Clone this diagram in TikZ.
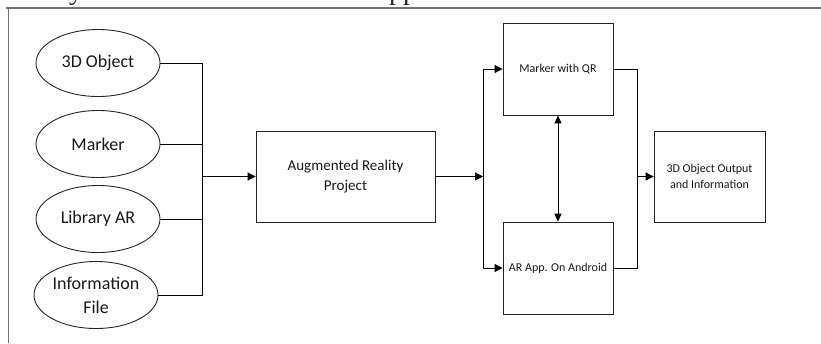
\documentclass[tikz,border=0pt]{standalone}
\usepackage{fontspec}
\setmainfont{Carlito}
\newfontfamily\serifpart{Liberation Serif}
\usetikzlibrary{shapes.geometric,arrows.meta}

\tikzset{
  src/.style={ellipse, draw=black!85, line width=0.9pt, minimum width=124pt,
    minimum height=67pt, inner sep=0pt, align=center, text=black!90,
    font=\fontsize{18}{24}\selectfont},
  bigbox/.style={rectangle, draw=black!85, line width=0.9pt, inner sep=0pt,
    align=center, text=black!90, font=\fontsize{15}{20}\selectfont},
  smallbox/.style={rectangle, draw=black!85, line width=0.9pt, inner sep=0pt,
    align=center, text=black!90, font=\fontsize{12}{16}\selectfont},
  wire/.style={draw=black, line width=1pt},
  arr/.style={wire, -{Triangle[length=8pt,width=8pt]}},
  dblarr/.style={wire, {Triangle[length=8pt,width=7pt]}-{Triangle[length=8pt,width=7pt]}},
  framing/.style={draw=black!55}
}

\begin{document}
\begin{tikzpicture}[x=1pt,y=-1pt]
  \useasboundingbox (0,0) rectangle (821,343);

  % descenders of the text line above, cut by the page edge
  \begin{scope}
    \clip (0,0) rectangle (821,7);
    \node[anchor=base, inner sep=0pt, font=\serifpart\fontsize{28}{30}\selectfont, text=black!85] (txty) at (76,-1) {y};
    \node[anchor=base, inner sep=0pt, font=\serifpart\fontsize{28}{30}\selectfont, text=black!85] (txtpp) at (403,-1) {pp};
  \end{scope}

  % outer frame
  \draw[framing, line width=1.8pt] (6,8) -- (821,8);
  \draw[framing, line width=1pt] (8.5,8) -- (8.5,343);

  % inputs
  \node[src] (obj)  at (98,63)  {3D Object};
  \node[src] (mark) at (98,144) {Marker};
  \node[src] (lib)  at (98,219) {Library AR};
  \node[src] (info) at (96,295) {Information\\File};

  % processing blocks
  \node[bigbox, minimum width=179pt, minimum height=91pt] (proj) at (345.5,176.5) {Augmented Reality\\Project};
  \node[smallbox, minimum width=110pt, minimum height=92pt] (qr)  at (558,69)  {Marker with QR};
  \node[smallbox, minimum width=110pt, minimum height=92pt] (app) at (558,268) {AR App. On Android};
  \node[smallbox, minimum width=111pt, minimum height=91pt] (out) at (709.5,176.5) {3D Object Output\\and Information};

  % junction points
  \coordinate (busL) at (202,176.5);
  \coordinate (busM) at (483,176.5);
  \coordinate (busR) at (637,176.5);

  % inputs gathered into the project
  \draw[wire] (obj.east)  -| (busL);
  \draw[wire] (mark.east) -| (busL);
  \draw[wire] (lib.east)  -| (busL);
  \draw[wire] (info.east) -| (busL);
  \draw[arr]  (busL) -- (proj.west);

  % project split to marker and app
  \draw[arr] (proj.east) -- (busM);
  \draw[arr] (busM) |- (qr.west);
  \draw[arr] (busM) |- (app.west);
  \draw[dblarr] (qr.south) -- (app.north);

  % merged output
  \draw[wire] (qr.east)  -| (busR);
  \draw[wire] (app.east) -| (busR);
  \draw[arr]  (busR) -- (out.west);
\end{tikzpicture}
\end{document}
